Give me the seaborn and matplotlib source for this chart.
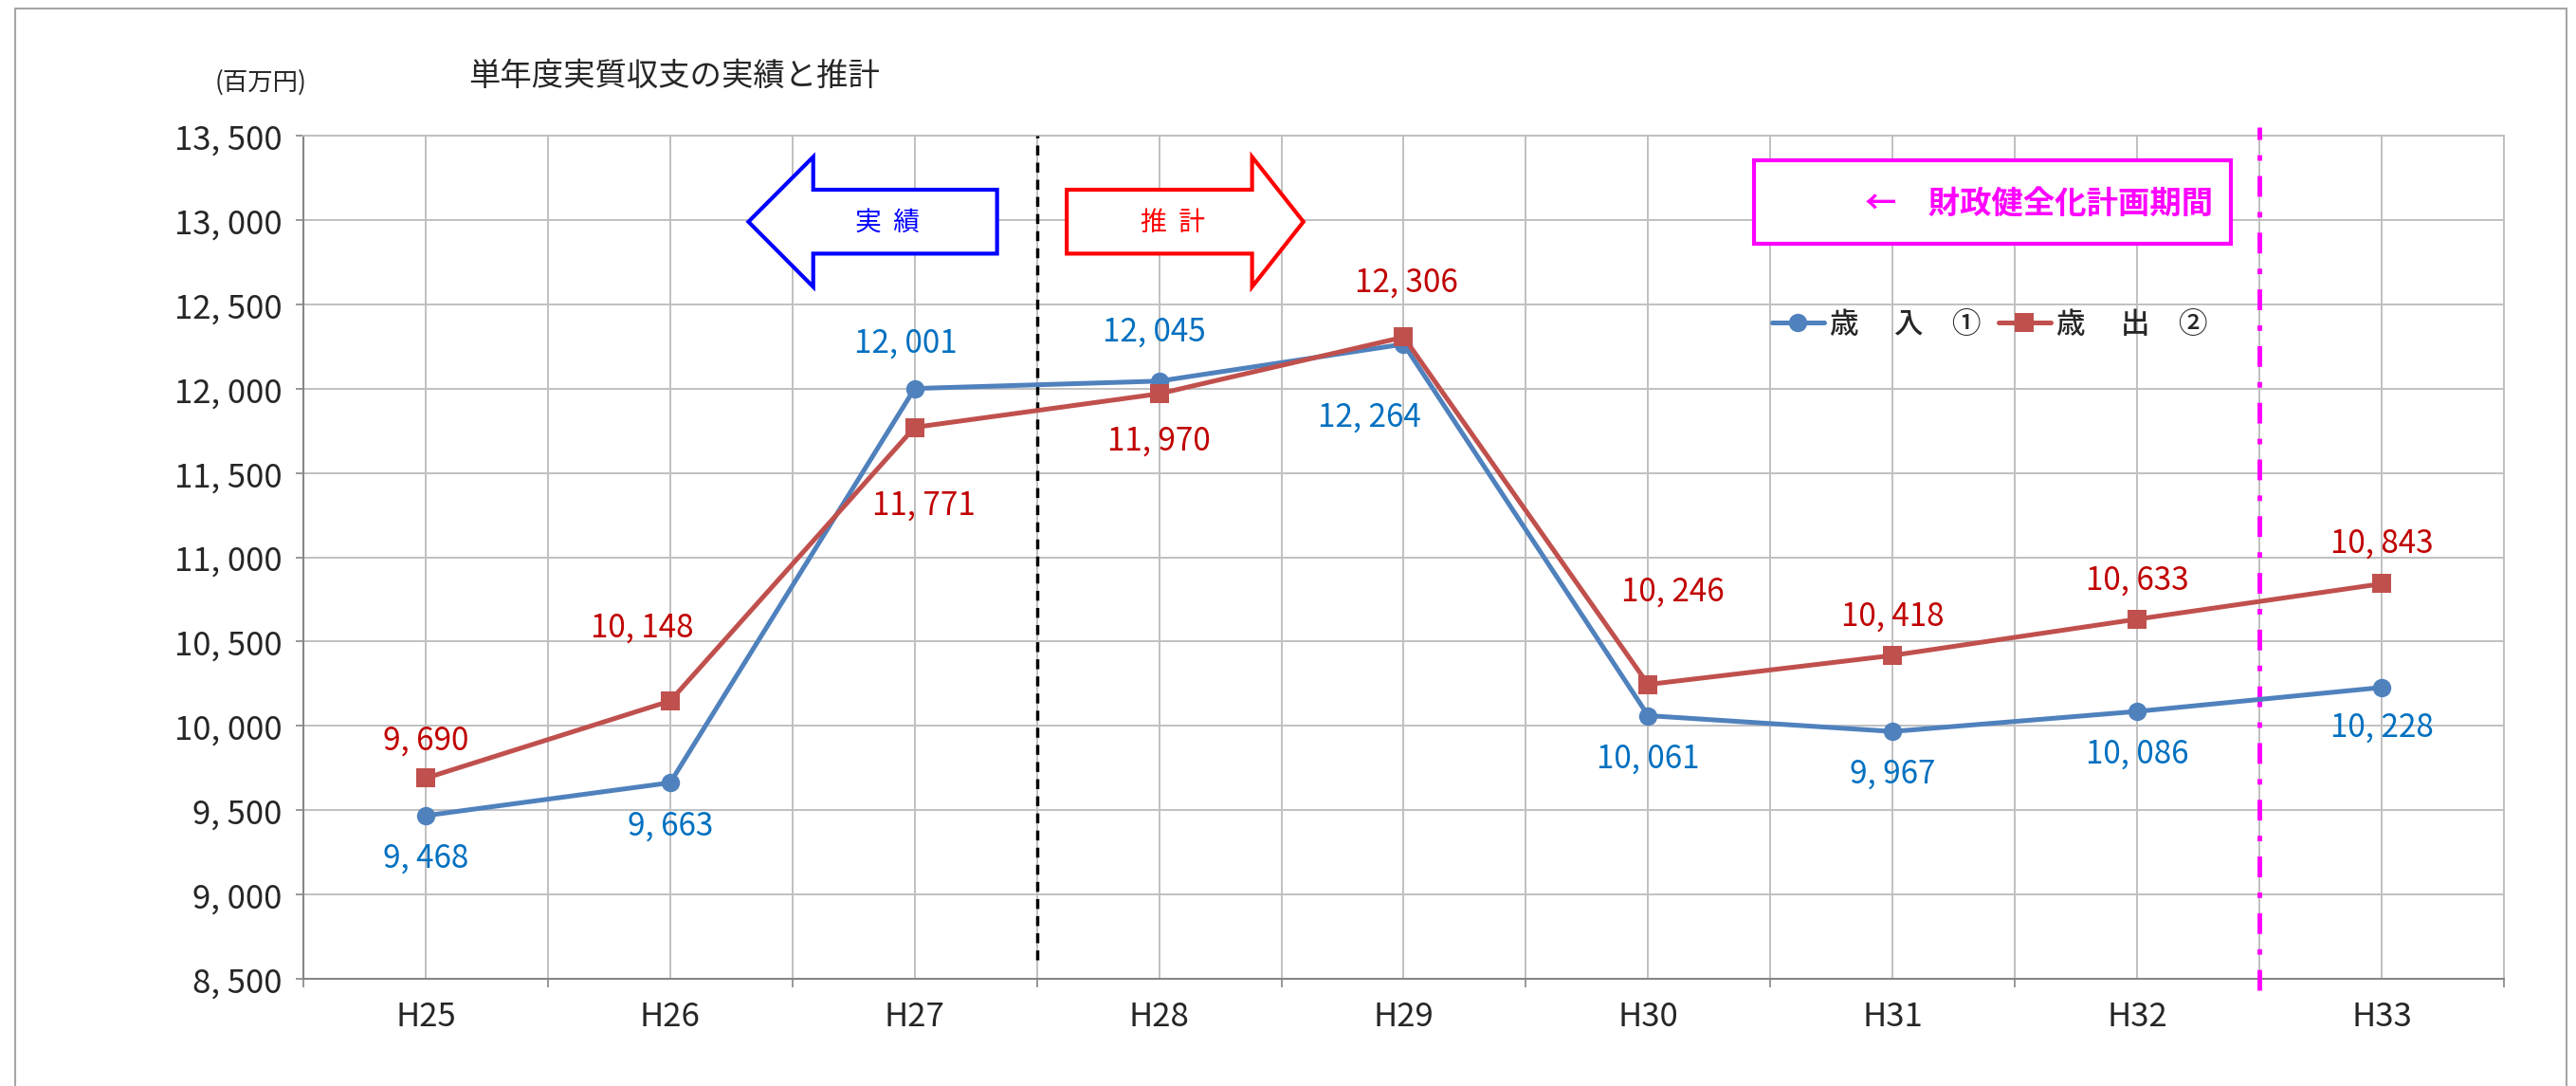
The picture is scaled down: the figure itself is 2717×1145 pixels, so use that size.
import numpy as np
import pandas as pd
import seaborn as sns
import matplotlib.pyplot as plt
from matplotlib.patches import Polygon, Rectangle
from matplotlib.lines import Line2D

years = ["H25", "H26", "H27", "H28", "H29", "H30", "H31", "H32", "H33"]
revenue = [9468, 9663, 12001, 12045, 12264, 10061, 9967, 10086, 10228]
expenditure = [9690, 10148, 11771, 11970, 12306, 10246, 10418, 10633, 10843]
series_names = ["歳　 入　①", "歳　 出　②"]
y_ticks = list(range(8500, 13501, 500))

# label offsets (points)
rev_offsets = [(0, -32), (0, -32), (-7, 35), (-4, 38), (-26, -55),
               (0, -32), (0, -32), (0, -32), (0, -30)]
exp_offsets = [(0, 29), (-21, 56), (7, -59), (0, -35), (2, 42),
               (19, 71), (0, 30), (0, 30), (0, 31)]

line_colors = ["#4F81BD", "#C0504D"]
label_colors = ["#0070C0", "#C00000"]
grid_c = "#C0C0C0"
axis_c = "#868686"

sns.set_theme(style="white")
plt.rcParams["font.family"] = ["Noto Sans CJK JP", "DejaVu Sans"]
num_font = ["Liberation Sans Narrow", "Noto Sans CJK JP", "DejaVu Sans"]

pos = np.arange(len(years))
df = pd.DataFrame({
    "pos": np.tile(pos, 2),
    "value": revenue + expenditure,
    "series": np.repeat(series_names, len(years)),
})

fig = plt.figure(figsize=(27.17, 11.459), dpi=100)
ax = fig.add_axes([0.1178, 0.0986, 0.8542, 0.7757])

sns.lineplot(data=df, x="pos", y="value", hue="series", style="series",
             markers=["o", "s"], dashes=False, palette=line_colors,
             lw=3.6, markersize=14, markeredgewidth=0, legend=False,
             estimator=None, ax=ax, zorder=5)

ax.set_xlim(-0.5, len(years) - 0.5)
ax.set_ylim(y_ticks[0], y_ticks[-1])
ax.set_xlabel("")
ax.set_ylabel("")

# x: ticks at boundaries, labels at centres
ax.set_xticks(np.arange(-0.5, len(years), 1), [""] * (len(years) + 1))
ax.set_xticks(pos, years, minor=True, fontfamily=num_font, fontsize=25)
ax.set_yticks(y_ticks, [f"{v:,}".replace(",", ", ") for v in y_ticks],
              fontfamily=num_font, fontsize=25)
ax.tick_params(axis="x", which="major", bottom=True, length=6.5, width=1.2,
               color=axis_c, direction="out")
ax.tick_params(axis="x", which="minor", bottom=True, length=0, pad=16)
ax.tick_params(axis="y", left=True, length=6, width=1.2, color=axis_c,
               direction="out", pad=10)
ax.grid(True, axis="x", which="both", color=grid_c, lw=1.4)
ax.grid(True, axis="y", which="major", color=grid_c, lw=1.4)
ax.set_axisbelow(True)
for s in ["left", "bottom"]:
    ax.spines[s].set_color(axis_c)
    ax.spines[s].set_linewidth(1.5)
for s in ["top", "right"]:
    ax.spines[s].set_color(grid_c)
    ax.spines[s].set_linewidth(1.4)

# data labels
for vals, offs, col in [(revenue, rev_offsets, label_colors[0]),
                        (expenditure, exp_offsets, label_colors[1])]:
    for p, v, (dx, dy) in zip(pos, vals, offs):
        ax.annotate(f"{v:,}".replace(",", ", "), (p, v), xytext=(dx, dy),
                    textcoords="offset points", ha="center", va="center",
                    color=col, fontsize=24, fontfamily=num_font, zorder=6)

# split lines
ax.vlines(2.5, 8610, 13500, colors="black", linestyles=(0, (3, 2.2)),
          lw=2.5, zorder=4)
ax.axvline(7.5, ymin=-0.0136, ymax=1.0098, color="#FF00FF", lw=3.5,
           ls=(0, (4.5, 3.3, 1.2, 3.3)), clip_on=False, zorder=4)

# 実績 / 推計 arrows
yc = 12990
left_arrow = [(1.32, yc), (1.585, 13375), (1.585, 13180), (2.337, 13180),
              (2.337, 12801), (1.585, 12801), (1.585, 12604)]
right_arrow = [(3.59, yc), (3.38, 13375), (3.38, 13180), (2.622, 13180),
               (2.622, 12801), (3.38, 12801), (3.38, 12604)]
ax.add_patch(Polygon(left_arrow, closed=True, fc="white", ec="#0000FF",
                     lw=3, joinstyle="miter", zorder=3))
ax.add_patch(Polygon(right_arrow, closed=True, fc="white", ec="#FF0000",
                     lw=3, joinstyle="miter", zorder=3))
ax.text(1.887, yc, "実  績", color="#0000FF", fontsize=20, ha="center",
        va="center", zorder=4)
ax.text(3.056, yc, "推  計", color="#FF0000", fontsize=20, ha="center",
        va="center", zorder=4)

# 財政健全化計画期間 box
ax.add_patch(Rectangle((5.433, 12857), 1.952, 500, fc="white", ec="#FF00FF",
                       lw=3, zorder=3))
ax.text(7.311, 13100, "←　財政健全化計画期間", color="#FF00FF", fontsize=24,
        fontweight="bold", ha="right", va="center", zorder=4)

# legend
handles = [Line2D([], [], color=line_colors[0], marker="o", lw=3.6, ms=14, mew=0),
           Line2D([], [], color=line_colors[1], marker="s", lw=3.6, ms=14, mew=0)]
fig.legend(handles, series_names, loc="center left",
           bbox_to_anchor=(1869 / 2717, 0.7007), ncol=2, frameon=False,
           prop={"size": 22, "weight": "medium"}, handlelength=1.8,
           handletextpad=0.2, columnspacing=0.6, borderpad=0, borderaxespad=0)

fig.text(0.1818, 0.930, "単年度実質収支の実績と推計", fontsize=24,
         ha="left", va="center")
fig.text(0.0835, 0.9236, "(百万円)", fontsize=19, ha="left", va="center")

# outer frame
fig.add_artist(Rectangle((16 / 2717, -0.02), (2707 - 16) / 2717,
                         1.02 - 10 / 1146, transform=fig.transFigure,
                         fill=False, ec="#A6A6A6", lw=1.5))

fig.savefig("out.png", dpi=100)
